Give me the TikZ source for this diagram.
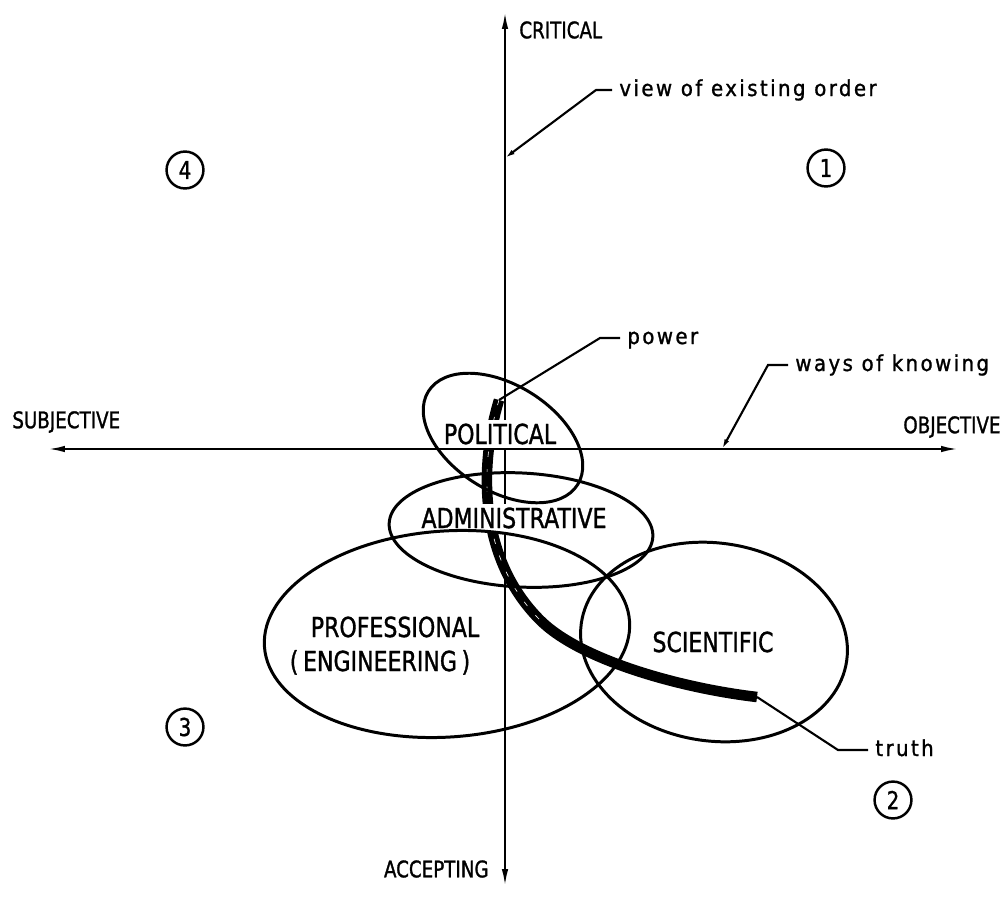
\documentclass[tikz,border=0pt]{standalone}
\usepackage{fontspec}
\usetikzlibrary{arrows.meta}
\setmainfont{DejaVu Sans}[FakeStretch=0.8,FakeBold=1.2]
\newfontfamily\notefont{DejaVu Sans}[FakeStretch=0.9,LetterSpace=11,FakeBold=1.2]
\tikzset{
    axis/.style={{Latex[length=3.4mm,width=1.3mm]}-{Latex[length=3.4mm,width=1.3mm]}, line width=1.2pt},
    ring/.style={line width=1.7pt},
    field/.style={font=\fontsize{15.7}{17}\selectfont, fill=white, inner sep=2pt, text height=11.4pt, text depth=0pt},
    pole/.style={font=\fontsize{13}{14}\selectfont, inner sep=0pt},
    note/.style={font=\notefont\fontsize{12.5}{14}\selectfont, inner sep=4pt, text height=1.5ex, text depth=.25ex},
    leader/.style={line width=1.2pt},
    tip/.style={-{Latex[length=2mm,width=1mm]}},
    quad/.style={circle, draw, line width=1.4pt, minimum size=21pt, inner sep=0pt, font=\fontsize{14}{14}\selectfont},
    truthline/.style={line width=6pt}
}
\begin{document}
\begin{tikzpicture}[x=0.02cm, y=-0.02cm]
\useasboundingbox (0,0) rectangle (1004,899);

\coordinate (top) at (505,12);
\coordinate (bottom) at (505,886);
\coordinate (left) at (48,449);
\coordinate (right) at (958,449);
\draw[axis] (bottom) -- (top);
\draw[axis] (left) -- (right);

\node[pole,anchor=west] at (519,30) (crit) {CRITICAL};
\node[pole,anchor=east] at (489,869) (acc) {ACCEPTING};
\node[pole,anchor=west] at (12,422) (subj) {SUBJECTIVE};
\node[pole,anchor=west] at (903,427) (obj) {OBJECTIVE};

\node[quad] at (826,168) (q1) {1};
\node[quad] at (893,800) (q2) {2};
\node[quad] at (185,727) (q3) {3};
\node[quad] at (185,170) (q4) {4};

\coordinate (pw) at (499,400);
\coordinate (bend) at (540,620);
\coordinate (te) at (757,697);
\draw[truthline] (pw) .. controls (478,470) and (480,560) .. (bend) .. controls (580,660) and (680,688) .. (te);
\draw[white, line width=0.35pt, dash pattern=on 3pt off 7pt] (pw) .. controls (478,470) and (480,560) .. (bend);

\coordinate (vp) at (505,158);
\coordinate (wp) at (722,449);
\node[note,anchor=west] at (612,90) (view) {view of existing order};
\node[note,anchor=west] at (788,365) (ways) {ways of knowing};
\node[note,anchor=west] at (620,338) (power) {power};
\node[note,anchor=west] at (868,750) (truth) {truth};
\draw[leader,tip] (view.west) -- ++(-16,0) -- (vp);
\draw[leader,tip] (ways.west) -- ++(-20,0) -- (wp);
\draw[leader] (power.west) -- ++(-20,0) -- (pw);
\draw[leader] (truth.west) -- ++(-30,0) -- (te);

\node[field] at (500,434) (polit) {POLITICAL};
\node[field] at (514,518) (admin) {ADMINISTRATIVE};
\node[field] at (395,627) (prof) {PROFESSIONAL};
\node[field] at (380,661) (eng) {(\,ENGINEERING\,)};
\node[field] at (713,642) (sci) {SCIENTIFIC};

\draw[ring, rotate around={-32:(503,438)}] (503,438) ellipse [x radius=88, y radius=53];
\draw[ring, rotate around={-3:(521,530)}] (521,530) ellipse [x radius=132, y radius=57];
\draw[ring, rotate around={4:(447,634)}] (447,634) ellipse [x radius=183, y radius=103];
\draw[ring, rotate around={-8:(714,642)}] (714,642) ellipse [x radius=134, y radius=99];
\end{tikzpicture}
\end{document}
